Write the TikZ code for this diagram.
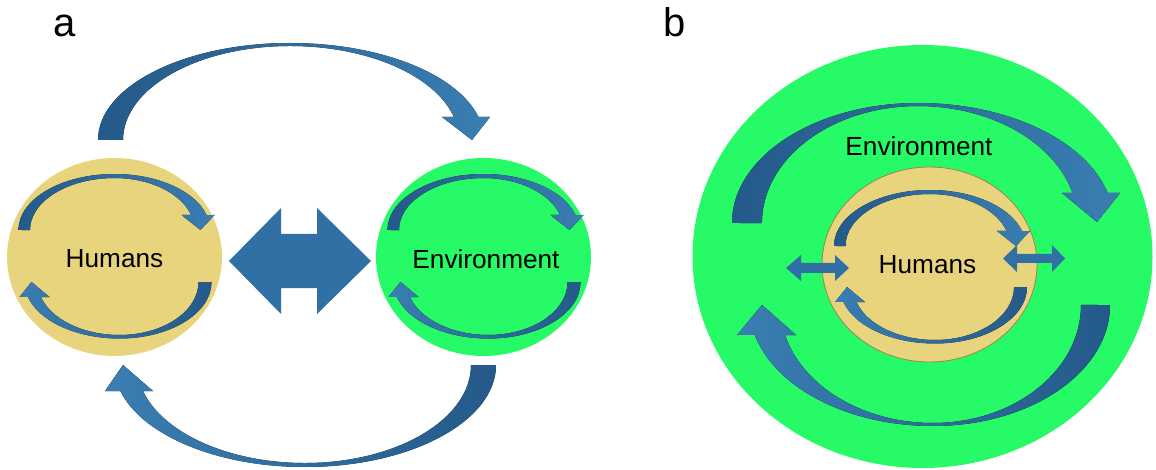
\documentclass[tikz,border=0pt]{standalone}
\usepackage{fontspec}
\setmainfont{Liberation Sans}
\usetikzlibrary{shapes.geometric}
\definecolor{humfill}{RGB}{233,212,126}
\definecolor{envfill}{RGB}{38,250,102}
\definecolor{bluedark}{RGB}{36,90,138}
\definecolor{bluelight}{RGB}{58,126,178}
\definecolor{blueflat}{RGB}{48,112,164}
\definecolor{humedge}{RGB}{150,135,75}
\tikzset{
  arrowLR/.style={left color=bluedark,right color=bluelight},
  arrowRL/.style={left color=bluelight,right color=bluedark},
  flatarrow/.style={fill=blueflat},
  blob/.style={ellipse,inner sep=0pt,draw=none},
  lbl/.style={inner sep=0pt,font=\fontsize{13.1}{15}\selectfont},
  panellbl/.style={inner sep=0pt,anchor=base,font=\fontsize{20}{24}\selectfont}
}
\newcommand{\innerTop}[2]{%
  \begin{scope}[shift={(#1,#2)}]
    \fill[arrowLR] (-96,0) arc[start angle=180,end angle=270,x radius=96,y radius=56]
      arc[start angle=270,end angle=344.47,x radius=95.5,y radius=56]
      -- (100,-15) -- (86,0) -- (67,-15) -- (76.6,-15)
      arc[start angle=343.23,end angle=270,x radius=80,y radius=52]
      arc[start angle=270,end angle=180,x radius=84.5,y radius=52] -- cycle;
  \end{scope}}
\newcommand{\innerBottom}[2]{%
  \begin{scope}[shift={(#1,#2)}]
    \fill[arrowRL] (92,0) arc[start angle=0,end angle=90,x radius=92,y radius=56.5]
      arc[start angle=90,end angle=164.61,x radius=95,y radius=56.5]
      -- (-100,15) -- (-88,0) -- (-70,15) -- (-78.6,15)
      arc[start angle=163.56,end angle=90,x radius=82,y radius=53]
      arc[start angle=90,end angle=0,x radius=79,y radius=53] -- cycle;
  \end{scope}}
\begin{document}
\begin{tikzpicture}[x=0.5pt,y=-0.5pt]
\useasboundingbox (0,0) rectangle (1156,470);
% ---------------- panel a ----------------
\node[panellbl] (la) at (65,37) {a};
% top big arc
\fill[arrowLR] (98,140) arc[start angle=180,end angle=270,x radius=192,y radius=97]
  arc[start angle=270,end angle=346.28,x radius=194,y radius=97]
  -- (490,117) -- (472,140) -- (442,117) -- (453.9,117)
  arc[start angle=345.84,end angle=270,x radius=169,y radius=94]
  arc[start angle=270,end angle=180,x radius=167,y radius=94] -- cycle;
% bottom big arc
\fill[arrowRL] (496,365) arc[start angle=0,end angle=90,x radius=191,y radius=102]
  arc[start angle=90,end angle=165.23,x radius=191,y radius=102]
  -- (105,391) -- (123,365) -- (153,391) -- (143,391)
  arc[start angle=164.62,end angle=90,x radius=168,y radius=98]
  arc[start angle=90,end angle=0,x radius=166,y radius=98] -- cycle;
% ellipses
\node[blob,fill=humfill,minimum width=107.5pt,minimum height=99pt] (humA) at (114.5,257) {};
\node[blob,fill=envfill,minimum width=107.5pt,minimum height=99pt] (envA) at (483.5,257) {};
\innerTop{114.5}{230}
\innerBottom{119.5}{282}
\innerTop{483.5}{230}
\innerBottom{488.5}{282}
% big double arrow
\fill[flatarrow] (229,261) -- (281,208) -- (281,234) -- (317,234) -- (317,208) -- (371,261)
  -- (317,314) -- (317,288) -- (281,288) -- (281,314) -- cycle;
\node[lbl] (tHumA) at (114.5,259) {Humans};
\node[lbl] (tEnvA) at (486,259) {Environment};
% ---------------- panel b ----------------
\node[panellbl] (lb) at (675,37) {b};
\node[blob,fill=envfill,minimum width=230pt,minimum height=211.5pt] (envB) at (922.5,256.5) {};
% top big arc b
\fill[arrowLR] (732,223) arc[start angle=180,end angle=270,x radius=186,y radius=120]
  arc[start angle=270,end angle=345.52,x radius=196,y radius=120]
  -- (1120,193) -- (1097,222) -- (1062,193) -- (1072.6,193)
  arc[start angle=345.14,end angle=270,x radius=160,y radius=117]
  arc[start angle=270,end angle=180,x radius=156,y radius=117] -- cycle;
% bottom big arc b
\fill[arrowRL] (1110,305) arc[start angle=0,end angle=90,x radius=177,y radius=121]
  arc[start angle=90,end angle=165.65,x radius=184,y radius=121]
  -- (737,335) -- (762,305) -- (796,335) -- (785,335)
  arc[start angle=165.27,end angle=90,x radius=153,y radius=118]
  arc[start angle=90,end angle=0,x radius=148,y radius=118] -- cycle;
\node[blob,fill=humfill,draw=humedge,line width=0.4pt,minimum width=107.5pt,minimum height=97.5pt] (humB) at (929.5,264.5) {};
\innerTop{930}{246}
\innerBottom{935}{287}
% small double arrows
\fill[flatarrow] (786,268) -- (801,255) -- (801,263) -- (835,263) -- (835,255) -- (849,268)
  -- (835,281) -- (835,273) -- (801,273) -- (801,281) -- cycle;
\fill[flatarrow] (1003,258.5) -- (1017,245) -- (1017,254) -- (1052,254) -- (1052,245) -- (1065,258.5)
  -- (1052,272) -- (1052,263) -- (1017,263) -- (1017,272) -- cycle;
\node[lbl] (tEnvB) at (919,146) {Environment};
\node[lbl] (tHumB) at (927.5,265) {Humans};
\end{tikzpicture}
\end{document}
